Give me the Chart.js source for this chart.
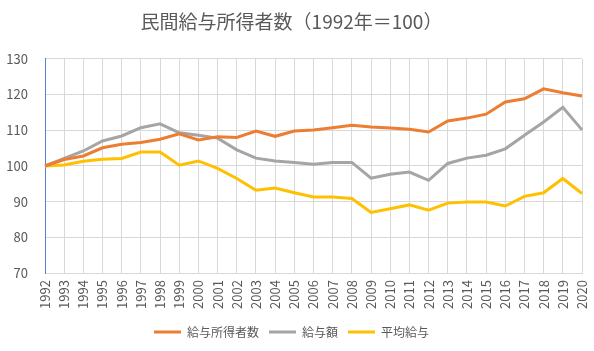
<!DOCTYPE html>
<html><head><meta charset="utf-8">
<script src="https://cdn.jsdelivr.net/npm/chart.js@4"></script>
<style>html,body{margin:0;padding:0;background:#fff;overflow:hidden}canvas{display:block}</style>
</head><body><canvas id="c" width="594" height="351"></canvas>
<script>
const years = ["1992","1993","1994","1995","1996","1997","1998","1999","2000","2001","2002","2003","2004","2005","2006","2007","2008","2009","2010","2011","2012","2013","2014","2015","2016","2017","2018","2019","2020"];
const earners = [100,101.8,102.8,105.1,106.1,106.6,107.5,109.0,107.3,108.2,108.0,109.8,108.3,109.8,110.1,110.7,111.4,110.9,110.6,110.3,109.5,112.6,113.4,114.5,117.9,118.8,121.6,120.5,119.6];
const totalPay = [100,102.1,104.2,107.0,108.4,110.7,111.8,109.3,108.6,107.8,104.5,102.2,101.4,101.0,100.5,101.0,101.0,96.6,97.7,98.3,96.0,100.7,102.2,103.0,104.8,108.6,112.3,116.4,110.1];
const avgPay = [100,100.3,101.3,101.9,102.1,103.9,103.9,100.2,101.4,99.3,96.5,93.2,93.8,92.5,91.3,91.3,90.9,87.0,88.0,89.1,87.6,89.6,89.9,89.9,88.8,91.5,92.5,96.5,92.3];
const yTicks = [70,80,90,100,110,120,130];
const seriesNames = ["給与所得者数","給与額","平均給与"];
const titleText = "民間給与所得者数（1992年＝100）";

const FONT = '"Noto Sans CJK JP", "Noto Sans", sans-serif';
Chart.defaults.font.family = FONT;
Chart.defaults.color = '#595959';
new Chart(document.getElementById('c'), {
  type: 'line',
  data: {
    labels: years,
    datasets: [
      {label: seriesNames[0], data: earners, borderColor: '#ED7D31', backgroundColor: '#ED7D31'},
      {label: seriesNames[1], data: totalPay, borderColor: '#A5A5A5', backgroundColor: '#A5A5A5'},
      {label: seriesNames[2], data: avgPay, borderColor: '#FFC000', backgroundColor: '#FFC000'}
    ].map(d => Object.assign(d, {borderWidth: 3, pointRadius: 0, tension: 0, fill: false}))
  },
  options: {
    responsive: false,
    animation: false,
    devicePixelRatio: 1,
    layout: {padding: {left: 1, right: 12, top: 8, bottom: 3}},
    plugins: {
      title: {display: true, text: titleText, font: {size: 19, weight: 'normal', family: FONT}, color: '#595959', padding: {top: 2, bottom: 26}},
      legend: {position: 'bottom', labels: {usePointStyle: true, pointStyle: 'line', pointStyleWidth: 27, boxWidth: 27, font: {size: 12}, color: '#595959', padding: 10}},
      tooltip: {enabled: false}
    },
    scales: {
      x: {
        grid: {color: '#d9d9d9', drawTicks: false},
        border: {color: '#d9d9d9'},
        afterFit: s => { s.paddingRight = 0; s.paddingLeft = 0; },
        ticks: {maxRotation: 90, minRotation: 90, autoSkip: false, font: {size: 13}, color: '#595959', padding: 7}
      },
      y: {
        min: 70, max: 130,
        afterBuildTicks: a => { a.ticks = yTicks.map(v => ({value: v})); },
        afterFit: s => { s.width = 44; },
        grid: {color: '#d9d9d9', drawTicks: false},
        border: {color: '#5b7fd0'},
        ticks: {font: {size: 13}, color: '#595959', padding: 17}
      }
    }
  }
});
</script></body></html>
